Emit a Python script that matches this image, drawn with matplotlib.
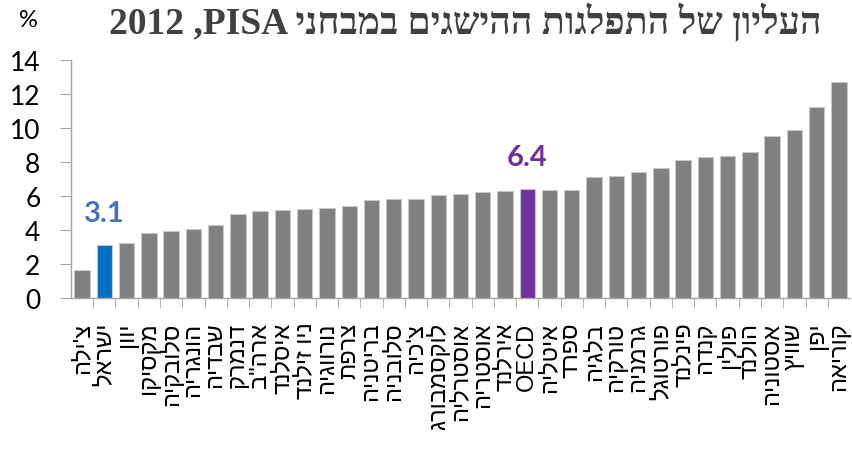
import numpy as np
import matplotlib.pyplot as plt

# countries, logical Hebrew order (reversed for drawing since matplotlib has no bidi)
countries = ["צ'ילה", "ישראל", "יוון", "מקסיקו", "סלובקיה", "הונגריה", "שבדיה",
             "דנמרק", 'ארה"ב', "איסלנד", "ניו זילנד", "נורווגיה", "צרפת", "בריטניה",
             "סלובניה", "צ'כיה", "לוקסמבורג", "אוסטרליה", "אוסטריה", "אירלנד", "OECD",
             "איטליה", "ספרד", "בלגיה", "טורקיה", "גרמניה", "פורטוגל", "פינלנד",
             "קנדה", "פולין", "הולנד", "אסטוניה", "שוויץ", "יפן", "קוריאה"]
values = [1.65, 3.1, 3.22, 3.85, 3.93, 4.06, 4.28, 4.93, 5.14, 5.2, 5.22, 5.32, 5.44,
          5.75, 5.85, 5.85, 6.06, 6.12, 6.26, 6.28, 6.4, 6.36, 6.36, 7.1, 7.18, 7.44,
          7.67, 8.11, 8.28, 8.36, 8.58, 9.52, 9.89, 11.27, 12.72]
highlight = {"ישראל": ("#0070C0", "#4472C4", "3.1"), "OECD": ("#7030A0", "#7030A0", "6.4")}
title_heb = "העליון של התפלגות ההישגים במבחני"
title_lat = "2012 ,PISA"


def visual(s):
    if s.isascii():
        return s
    return s[::-1]


heb_fonts = ['Liberation Sans', 'DejaVu Sans']

fig = plt.figure(figsize=(8.52, 4.56), dpi=100)
ax = fig.add_axes([0.0833, 0.344, 0.9144, 0.522])

x = np.arange(len(countries))
colors = [highlight[c][0] if c in highlight else '#808080' for c in countries]
ax.bar(x, values, width=0.69, color=colors, edgecolor='#c8c8c8', linewidth=0.8, zorder=2)

for i, c in enumerate(countries):
    if c in highlight:
        ax.annotate(highlight[c][2], (i, values[i]), xytext=(0, 14), textcoords='offset points',
                    ha='center', va='bottom', fontsize=21, fontweight='bold',
                    color=highlight[c][1], family=['Lato', 'DejaVu Sans'])

ax.set_xlim(-0.5, len(countries) - 0.5)
ax.set_ylim(0, 14)
ax.set_yticks(np.arange(0, 15, 2))
ax.set_yticklabels([str(v) for v in range(0, 15, 2)], fontsize=19, family=['Lato', 'DejaVu Sans'])

ax.set_xticks(x)
ax.set_xticklabels([visual(c) for c in countries], rotation=90, fontsize=17, family=heb_fonts)
ax.set_xticks(x[:-1] + 0.5, minor=True)
ax.tick_params(axis='x', which='major', length=0, pad=17)
ax.tick_params(axis='x', which='minor', length=7, color='#a6a6a6', direction='out')
ax.tick_params(axis='y', length=8, color='#a6a6a6', pad=14)

for side in ['top', 'right']:
    ax.spines[side].set_visible(False)
for side in ['left', 'bottom']:
    ax.spines[side].set_color('#a6a6a6')
    ax.spines[side].set_linewidth(1)

fig.text(0.033, 0.955, "%", fontsize=17, ha='center', va='center', family=['Lato', 'DejaVu Sans'])
fig.text(0.546, 0.95, title_lat + " " + visual(title_heb), fontsize=27, fontweight='bold',
         color='#404040', ha='center', va='center', family=['Liberation Serif', 'DejaVu Sans'])

fig.savefig("out.png", dpi=100)
